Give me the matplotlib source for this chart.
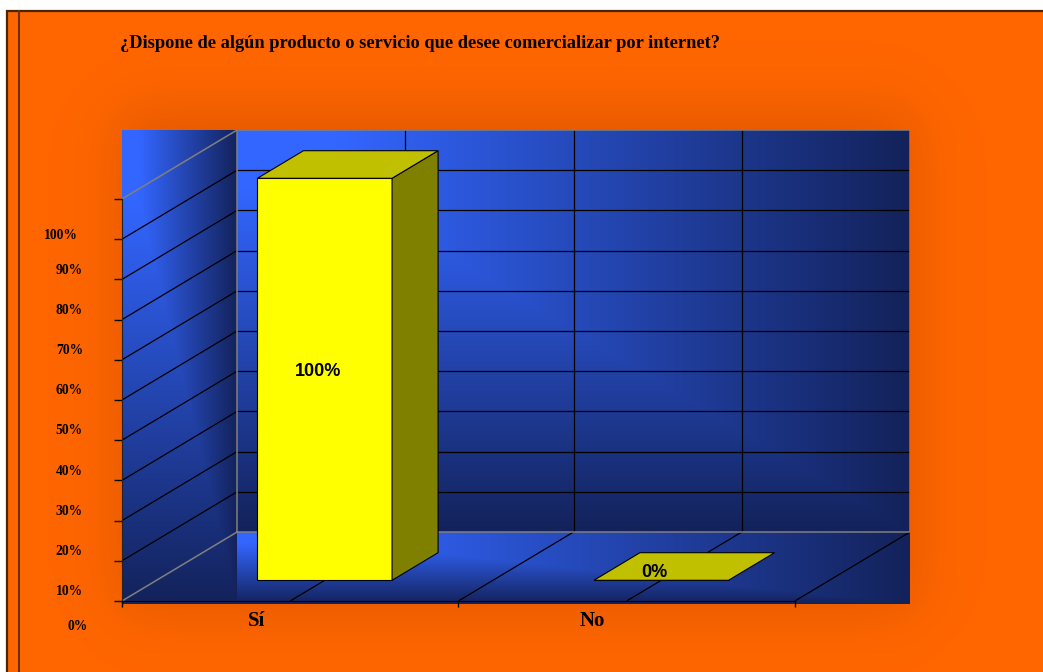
import numpy as np
import matplotlib
matplotlib.use("Agg")
import matplotlib.pyplot as plt
from matplotlib.patches import Rectangle
from matplotlib.lines import Line2D

# ---------------- data ----------------
title = "¿Dispone de algún producto o servicio que desee comercializar por internet?"
categories = ["Sí", "No"]
values = [1.00, 0.00]
value_labels = ["100%", "0%"]
ytick_values = [0.0, 0.1, 0.2, 0.3, 0.4, 0.5, 0.6, 0.7, 0.8, 0.9, 1.0]
ytick_labels = ["0%", "10%", "20%", "30%", "40%", "50%", "60%", "70%", "80%", "90%", "100%"]

# ---------------- layout / style ----------------
W, H, DPI = 1043, 672, 100
ORANGE = "#FF6600"
BORDER = "#4a2300"
BRIGHT = np.array([51, 102, 255]) / 255.0
DARK = np.array([19, 34, 90]) / 255.0
SERIF = ["Liberation Serif", "DejaVu Serif"]
SANS = ["Liberation Sans", "DejaVu Sans"]

fig = plt.figure(figsize=(W / DPI, H / DPI), dpi=DPI, facecolor="white")

# background axes in pixel coordinates
bg = fig.add_axes([0, 0, 1, 1], zorder=0)
bg.set_xlim(0, W)
bg.set_ylim(H, 0)
bg.axis("off")

bg.add_patch(Rectangle((7, 11), W + 20, H + 20, facecolor=ORANGE,
                       edgecolor=BORDER, lw=1.6, zorder=0))
bg.add_line(Line2D([19, 19], [11, H + 5], color="#6b3000", lw=1.5, zorder=3))

# plot area box (pixels)
L, R, T, B = 122, 910, 130, 604

# soft shadow around plot area
xs = np.arange(W) + 0.5
ys = np.arange(H) + 0.5
sig = lambda z: 1.0 / (1.0 + np.exp(-z))
s = 18.0
fx = sig((xs - (L - 4)) / s) * sig(((R + 6) - xs) / s)
fy = sig((ys - (T - 20)) / s) * sig(((B + 8) - ys) / s)
alpha = 0.2 * np.outer(fy, fx)
shadow = np.zeros((H, W, 4))
shadow[..., 0] = 0.45
shadow[..., 1] = 0.13
shadow[..., 3] = alpha
shadow[:12, :, 3] = 0
shadow[:, :20, 3] = 0
bg.imshow(shadow, extent=(0, W, H, 0), origin="upper", aspect="auto",
          interpolation="bilinear", zorder=1)

# title
tt = bg.text(120, 48, title, fontsize=11, fontweight="bold", family=SERIF,
             ha="left", va="baseline", color="black", zorder=5)
fig.canvas.draw()
wpx = tt.get_window_extent().width
tt.set_fontsize(11 * 598.0 / wpx)

# ---------------- main 3D-like axes ----------------
ax = fig.add_axes([L / W, 1 - B / H, (R - L) / W, (B - T) / H], zorder=2)
ax.patch.set_visible(False)

ncat = len(categories)
DX, DY = 0.342, 0.1716          # depth offset (data units)
xmax = ncat + DX
ytop = 1.0 + DY
ybot = -0.0075


def gradient(n=300, lo=0.15):
    u = np.linspace(0, 1, n)
    U, V = np.meshgrid(u, u)
    t = np.clip((np.maximum(U, V) - lo) / (1 - lo), 0, 1)
    return BRIGHT * (1 - t)[..., None] + DARK * t[..., None]


g = gradient()
ax.imshow(g, extent=(0, DX, ybot, ytop), origin="upper", aspect="auto",
          interpolation="bilinear", zorder=0)
ax.imshow(g, extent=(DX, xmax, DY, ytop), origin="upper", aspect="auto",
          interpolation="bilinear", zorder=0)
ax.imshow(g, extent=(DX, xmax, ybot, DY), origin="upper", aspect="auto",
          interpolation="bilinear", zorder=0)
ax.set_xlim(0, xmax)
ax.set_ylim(ybot, ytop)

grid_kw = dict(color="black", lw=0.9, zorder=2, solid_capstyle="butt")
edge_kw = dict(color="#808080", lw=1.1, zorder=2)
inner = ytick_values[1:-1]
for v in inner:
    ax.plot([DX, xmax], [v + DY, v + DY], **grid_kw)     # back wall
    ax.plot([0, DX], [v, v + DY], **grid_kw)              # side wall
half = np.arange(0.5, ncat + 0.01, 0.5)
for c in half:
    if c < ncat:
        ax.plot([c + DX, c + DX], [DY, ytop], **grid_kw)  # back wall verticals
    ax.plot([c, c + DX], [0, DY], **grid_kw)              # floor diagonals
# wall edges
ax.plot([DX, xmax, xmax, DX, DX], [DY, DY, ytop, ytop, DY], **edge_kw)
ax.plot([0, DX], [1.0, ytop], **edge_kw)
ax.plot([0, DX], [0, DY], **edge_kw)

# bars
bw, d_front, d_back = 0.4, 0.3, 0.7
centers = np.arange(ncat) + 0.5
ax.bar(centers + d_front * DX, values, width=bw, bottom=d_front * DY,
       color="#FFFF00", edgecolor="black", lw=0.8, zorder=5)
for c, v in zip(centers, values):
    xl, xr = c - bw / 2, c + bw / 2
    top = [(xl + d_front * DX, v + d_front * DY), (xr + d_front * DX, v + d_front * DY),
           (xr + d_back * DX, v + d_back * DY), (xl + d_back * DX, v + d_back * DY)]
    side = [(xr + d_front * DX, d_front * DY), (xr + d_back * DX, d_back * DY),
            (xr + d_back * DX, v + d_back * DY), (xr + d_front * DX, v + d_front * DY)]
    if v > 0:
        ax.fill(*zip(*side), facecolor="#808000", edgecolor="black", lw=0.8, zorder=5)
    ax.fill(*zip(*top), facecolor="#C0C000", edgecolor="black", lw=0.8, zorder=6)

for c, v, lab in zip(centers, values, value_labels):
    ax.annotate(lab, xy=(c + d_front * DX, d_front * DY + v / 2),
                xytext=(-7, 8), textcoords="offset pixels",
                ha="center", va="center", fontsize=13, fontweight="bold",
                family=SANS, color="black", zorder=8)

# axes spines / ticks
for sp in ("top", "right"):
    ax.spines[sp].set_visible(False)
ax.spines["left"].set_position(("data", 0))
ax.spines["left"].set_bounds(0, 1)
ax.spines["left"].set_color("#222222")
ax.spines["bottom"].set_position(("data", 0))
ax.spines["bottom"].set_bounds(0, ncat)
ax.spines["bottom"].set_color("black")
ax.set_yticks(ytick_values)
ax.set_yticklabels([])
ax.set_xticks(np.arange(ncat + 1))
ax.set_xticklabels([])
ax.tick_params(axis="y", direction="out", length=5.8, width=1, color="black")
ax.tick_params(axis="x", direction="out", length=4.3, width=1, color="black")

nudge = {0: (5, 5), len(ytick_values) - 1: (-5, -6)}
for i, (v, lab) in enumerate(zip(ytick_values, ytick_labels)):
    ddx, ddy = nudge.get(i, (0, 0))
    ax.annotate(lab, xy=(0, v), xytext=(-39 + ddx, -31 + ddy),
                textcoords="offset pixels", ha="right", va="center",
                fontsize=9.8, fontweight="bold", family=SERIF, color="black",
                annotation_clip=False)

for c, lab in zip(centers, categories):
    ax.annotate(lab, xy=(c, 0), xytext=(-34, -20), textcoords="offset pixels",
                ha="center", va="center", fontsize=15, fontweight="bold",
                family=SERIF, color="black", annotation_clip=False)

fig.savefig("out.png", dpi=DPI, facecolor="white")
